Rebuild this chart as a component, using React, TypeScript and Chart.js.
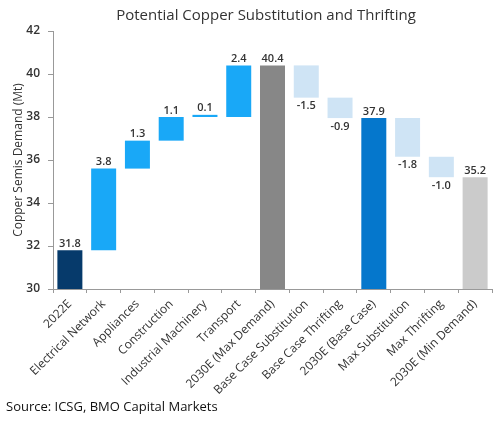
import { useEffect, useRef } from 'react';
import { Chart, registerables } from 'chart.js';
Chart.register(...registerables);

const categories = [
  '2022E', 'Electrical Network', 'Appliances', 'Construction', 'Industrial Machinery', 'Transport',
  '2030E (Max Demand)', 'Base Case Substitution', 'Base Case Thrifting', '2030E (Base Case)',
  'Max Substitution', 'Max Thrifting', '2030E (Min Demand)',
];
const barLow = [30, 31.8, 35.6, 36.9, 38.0, 38.0, 30, 38.9, 37.95, 30, 36.15, 35.2, 30];
const barHigh = [31.8, 35.6, 36.9, 38.0, 38.1, 40.4, 40.4, 40.4, 38.9, 37.95, 37.95, 36.15, 35.2];
const valueLabels = ['31.8', '3.8', '1.3', '1.1', '0.1', '2.4', '40.4', '-1.5', '-0.9', '37.9', '-1.8', '-1.0', '35.2'];
const labelBelow = [false, false, false, false, false, false, false, true, true, false, true, true, false];
const barColors = [
  '#063a6b', '#19a8f7', '#19a8f7', '#19a8f7', '#19a8f7', '#19a8f7', '#878787',
  '#cfe4f5', '#cfe4f5', '#0577cc', '#cfe4f5', '#cfe4f5', '#cbcbcb',
];
const yTicks = [30, 32, 34, 36, 38, 40, 42];

const FONT = "'Open Sans', 'Noto Sans', sans-serif";

const textPlugin = {
  id: 'texts',
  afterDraw(chart: any) {
    const ctx = chart.ctx;
    const meta = chart.getDatasetMeta(0);
    const y = chart.scales.y;
    ctx.save();
    ctx.fillStyle = '#333';
    ctx.font = `600 11px ${FONT}`;
    ctx.textAlign = 'center';
    meta.data.forEach((bar: any, i: number) => {
      if (labelBelow[i]) {
        ctx.textBaseline = 'top';
        ctx.fillText(valueLabels[i], bar.x, y.getPixelForValue(barLow[i]) + 3);
      } else {
        ctx.textBaseline = 'bottom';
        ctx.fillText(valueLabels[i], bar.x, y.getPixelForValue(barHigh[i]) - 1);
      }
    });
    ctx.fillStyle = '#333';
    ctx.font = `15px ${FONT}`;
    ctx.textBaseline = 'middle';
    ctx.textAlign = 'center';
    ctx.fillText('Potential Copper Substitution and Thrifting', 266, 16);
    ctx.fillStyle = '#111';
    ctx.font = `13px ${FONT}`;
    ctx.textAlign = 'left';
    ctx.fillText('Source: ICSG, BMO Capital Markets', 6, 407);
    ctx.restore();
  },
};

export default function App() {
  const ref = useRef<HTMLCanvasElement>(null);
  useEffect(() => {
    const chart = new Chart(ref.current!, {
      type: 'bar',
      data: {
        labels: categories,
        datasets: [{
          data: categories.map((_, i) => [barLow[i], barHigh[i]]) as any,
          backgroundColor: barColors,
          barPercentage: 0.74,
          categoryPercentage: 1,
        }],
      },
      options: {
        animation: false,
        responsive: false,
        maintainAspectRatio: false,
        layout: { padding: { top: 31, right: 4, left: 0, bottom: 0 } },
        plugins: { legend: { display: false }, tooltip: { enabled: false }, title: { display: false } },
        scales: {
          x: {
            grid: { display: true, drawOnChartArea: false, offset: true, tickLength: 4, color: '#999' },
            border: { color: '#999' },
            ticks: { minRotation: 45, maxRotation: 45, autoSkip: false, color: '#333', font: { family: FONT, size: 12 }, padding: 4 },
            afterFit: (s: any) => { s.height = 136; },
          },
          y: {
            min: 30,
            max: 42,
            afterBuildTicks: (s: any) => { s.ticks = yTicks.map((v) => ({ value: v })); },
            ticks: { color: '#333', font: { family: FONT, size: 12, weight: 600 as any }, padding: 8 },
            grid: { drawOnChartArea: false, tickLength: 5, color: '#999' },
            border: { color: '#999' },
            title: { display: true, text: 'Copper Semis Demand (Mt)', color: '#333', font: { family: FONT, size: 12 }, padding: { top: 11, bottom: 0 } },
            afterFit: (s: any) => { s.width = 53; },
          },
        },
      },
      plugins: [textPlugin],
    });
    return () => chart.destroy();
  }, []);
  return (
    <div style={{ position: 'fixed', left: 0, top: 0, width: 496, height: 425, background: '#fff' }}>
      <canvas ref={ref} width={496} height={425} style={{ display: 'block' }} />
    </div>
  );
}
